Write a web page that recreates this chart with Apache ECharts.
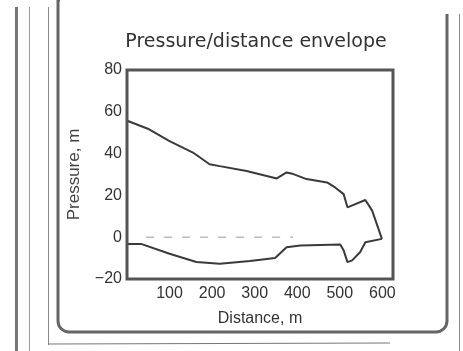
<!DOCTYPE html>
<html><head><meta charset="utf-8">
<script src="https://cdn.jsdelivr.net/npm/echarts@6/dist/echarts.min.js"></script>
<style>html,body{margin:0;padding:0;background:#fff}#c{width:463px;height:351px}</style>
</head><body><div id="c"></div>
<script>
const upperX = [2, 49, 100, 155, 194, 218, 281, 352, 375, 391, 422, 470, 489, 509, 518, 560, 576, 599];
const upperY = [55.6, 51.9, 46, 40.5, 34.9, 34, 31.7, 28.1, 31, 30.2, 27.8, 26.2, 23.8, 20.6, 14.3, 17.8, 12.7, -0.8];
const lowerX = [2, 33, 100, 163, 218, 289, 348, 375, 407, 501, 509, 518, 529, 548, 560, 599];
const lowerY = [-3.2, -3.2, -7.9, -11.9, -12.7, -11.4, -10, -4.8, -4, -3.5, -6.3, -11.9, -11.1, -7.1, -2.4, -0.8];
const zeroX = [45, 390];
const zeroY = [0, 0];
const xTicks = [100, 200, 300, 400, 500, 600];
const yTicks = [-20, 0, 20, 40, 60, 80];

const pair = (xs, ys) => xs.map((x, i) => [x, ys[i]]);
const chart = echarts.init(document.getElementById('c'));
const ink = '#3a3a3a';
const font = 'Liberation Sans';
chart.setOption({
  animation: false,
  backgroundColor: '#fff',
  title: {
    text: 'Pressure/distance envelope', left: 251, top: 28, textAlign: 'center',
    textStyle: {fontFamily: 'DejaVu Sans', fontSize: 19, fontWeight: 'normal', color: '#333'}
  },
  grid: {left: 127, top: 70, width: 266, height: 209, show: true, borderColor: '#555', borderWidth: 3},
  xAxis: {
    type: 'value', min: 0, max: 625, interval: 100,
    name: 'Distance, m', nameLocation: 'middle', nameGap: 32,
    nameTextStyle: {fontFamily: font, fontSize: 16, color: '#333'},
    axisLine: {show: false}, axisTick: {show: false}, splitLine: {show: false},
    axisLabel: {fontFamily: font, fontSize: 16, color: '#333', margin: 7,
      formatter: v => xTicks.includes(v) ? String(v) : ''}
  },
  yAxis: {
    type: 'value', min: -20, max: 80, interval: 20,
    name: 'Pressure, m', nameLocation: 'middle', nameGap: 44,
    nameTextStyle: {fontFamily: font, fontSize: 17, color: '#444'},
    axisLine: {show: false}, axisTick: {show: false}, splitLine: {show: false},
    axisLabel: {fontFamily: font, fontSize: 16, color: '#333', margin: 5,
      formatter: v => yTicks.includes(v) ? (v < 0 ? '\u2212' + (-v) : String(v)) : ''}
  },
  series: [
    {type: 'line', data: pair(upperX, upperY), symbol: 'none', lineStyle: {color: ink, width: 2}},
    {type: 'line', data: pair(lowerX, lowerY), symbol: 'none', lineStyle: {color: ink, width: 2}},
    {type: 'line', data: pair(zeroX, zeroY), symbol: 'none', lineStyle: {color: '#bbb', width: 1.5, type: [8, 10]}}
  ],
  graphic: [
    {type: 'rect', shape: {x: 15, y: 7, width: 3, height: 344}, style: {fill: '#777'}},
    {type: 'rect', shape: {x: 29, y: 7, width: 1, height: 344}, style: {fill: '#999'}},
    {type: 'rect', shape: {x: 48, y: 7, width: 1, height: 338}, style: {fill: '#888'}},
    {type: 'rect', shape: {x: 459, y: 14, width: 1, height: 337}, style: {fill: '#888'}},
    {type: 'rect', shape: {x: 58, y: 0, width: 389, height: 332, r: [0, 0, 11, 11]},
      style: {fill: 'none', stroke: '#666', lineWidth: 3}},
    {type: 'polyline', shape: {points: [[48, 344], [390, 343]]}, style: {stroke: '#777', lineWidth: 1, fill: 'none'}},
    {type: 'rect', shape: {x: 60, y: 0, width: 385, height: 5}, style: {fill: '#fff'}},
    {type: 'rect', shape: {x: 440, y: 0, width: 15, height: 14}, style: {fill: '#fff'}}
  ]
});
</script></body></html>
